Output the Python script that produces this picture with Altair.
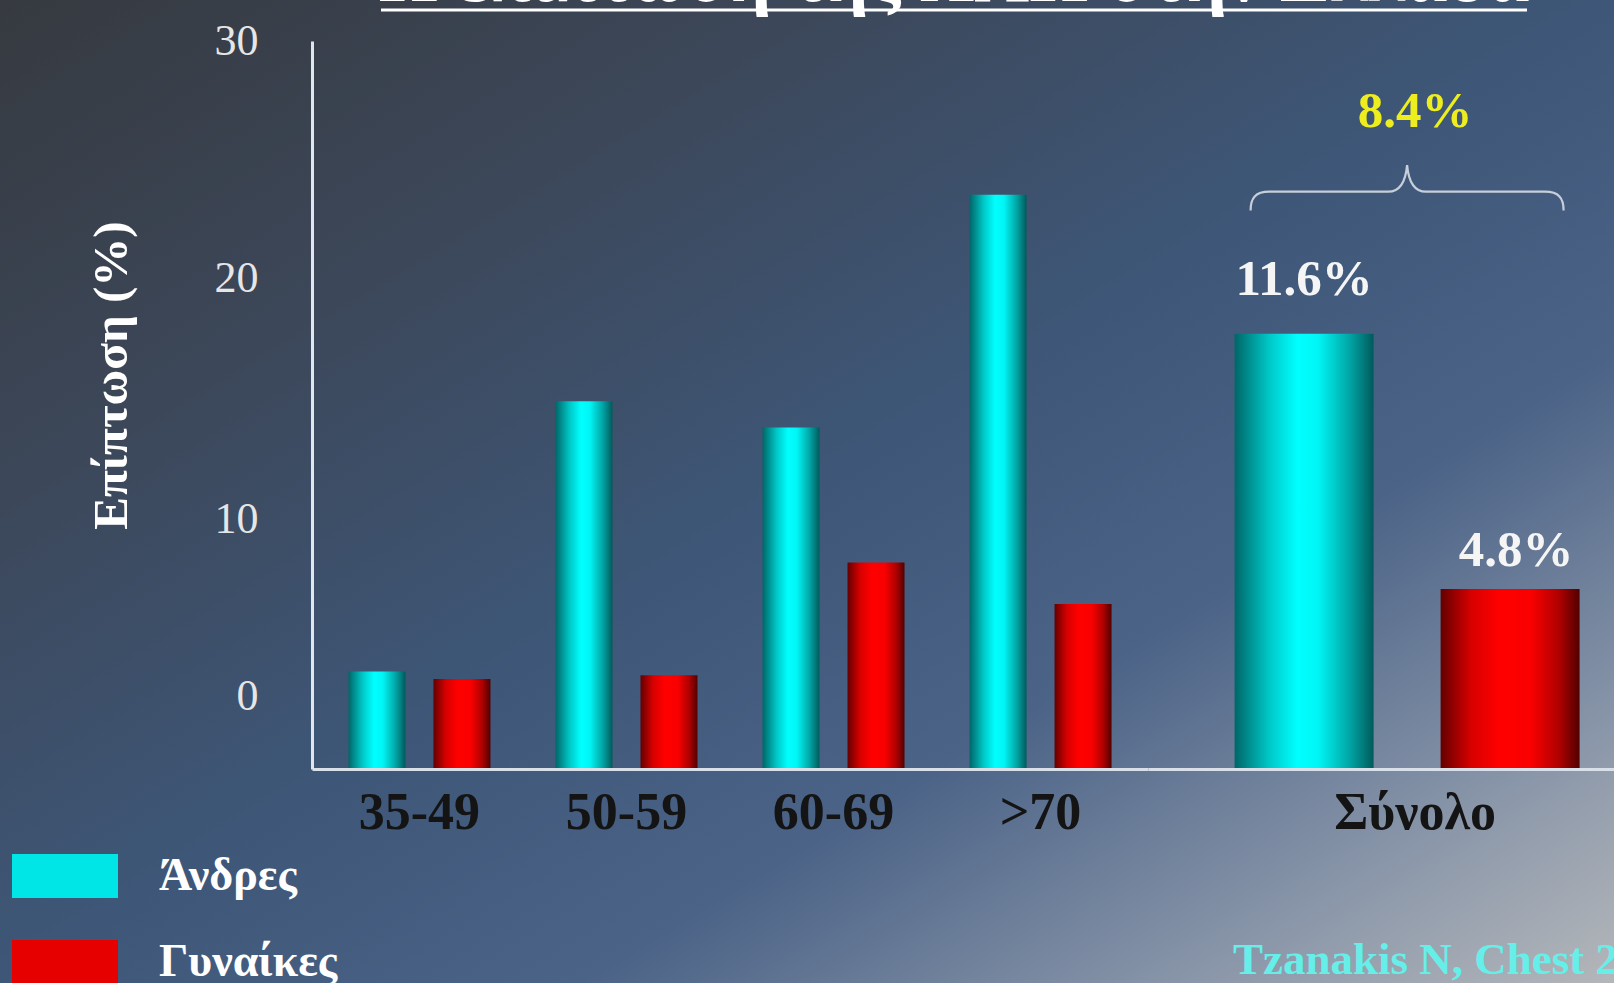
import altair as alt
import pandas as pd

# ---------------- data ----------------
age_groups = ["35-49", "50-59", "60-69", ">70"]
men_by_age = [2.6, 9.8, 9.1, 15.3]
women_by_age = [2.4, 2.5, 5.5, 4.4]
sexes = ["Άνδρες", "Γυναίκες"]
total_group = "Σύνολο"
total_values = [11.6, 4.8]
total_labels = ["11.6%", "4.8%"]
overall_label = "8.4%"
y_axis_values = [1.92, 6.64, 13.07, 19.4]
y_axis_labels = ["0", "10", "20", "30"]
slide_title = "Η επίπτωση της ΧΑΠ στην Ελλάδα"
y_title = "Επίπτωση (%)"
credit = "Tzanakis N, Chest 2004"

SERIF = "Liberation Serif"
W, H = 1302, 728
SPLIT = 836
PAD = {"left": 312, "top": 41, "right": 0, "bottom": 214}


def hgrad(stops):
    return alt.LinearGradient(
        gradient="linear",
        stops=[alt.GradientStop(color=c, offset=o) for o, c in stops],
        x1=0, x2=1, y1=0, y2=0,
    )


MEN_GRAD = hgrad([(0, "#006668"), (0.25, "#00c8c8"), (0.45, "#00ffff"),
                  (0.6, "#00f6f6"), (0.82, "#00a8a8"), (1, "#005a5c")])
WOMEN_GRAD = hgrad([(0, "#640000"), (0.22, "#d80000"), (0.42, "#ff0000"),
                    (0.65, "#fa0000"), (0.85, "#b00000"), (1, "#520000")])
BG_GRAD = alt.LinearGradient(
    gradient="linear",
    stops=[alt.GradientStop(color="#363a40", offset=0),
           alt.GradientStop(color="#3c4759", offset=0.25),
           alt.GradientStop(color="#3e5778", offset=0.5),
           alt.GradientStop(color="#4b6387", offset=0.68),
           alt.GradientStop(color="#8794a8", offset=0.86),
           alt.GradientStop(color="#b4b7ba", offset=1)],
    x1=0, y1=0, x2=1, y2=1,
)

label_expr = ""
for v, l in zip(y_axis_values, y_axis_labels):
    label_expr += f"abs(datum.value - {v}) < 0.01 ? '{l}' : "
label_expr += "''"

Y = alt.Y(
    "value:Q",
    scale=alt.Scale(domain=[0, 19.4], nice=False, zero=True),
    axis=alt.Axis(
        values=y_axis_values, labelExpr=label_expr, labelFont=SERIF,
        labelFontSize=44, labelColor="#e6e6e6", labelPadding=54,
        labelFlush=False, labelOverlap=False, ticks=False, tickSize=0,
        grid=False, domainColor="#dfe6ee", domainWidth=3, zindex=1,
        title=y_title, titleFont=SERIF, titleFontSize=49,
        titleFontWeight="bold", titleColor="#ffffff", titleX=-201,
        titleY=334, titleAngle=270, titleAlign="center",
        titleBaseline="middle",
    ),
)

X_left = alt.X(
    "age:N",
    scale=alt.Scale(domain=age_groups, range=[0, SPLIT], paddingInner=0.314,
                    paddingOuter=0.176),
    axis=alt.Axis(orient="bottom", title=None, ticks=False, tickSize=0,
                  grid=False, labelFont=SERIF, labelFontSize=52,
                  labelFontWeight="bold", labelColor="#141414",
                  labelPadding=18, labelAngle=0, domainColor="#d9e0ea",
                  domainWidth=3, zindex=1),
)
X_right = alt.X(
    "group:N",
    scale=alt.Scale(domain=[total_group], range=[SPLIT, W], paddingInner=0,
                    paddingOuter=1, align=0.584),
    axis=alt.Axis(orient="bottom", title=None, ticks=False, tickSize=0,
                  grid=False, labelFont=SERIF, labelFontSize=52,
                  labelFontWeight="bold", labelColor="#141414",
                  labelPadding=18, labelOffset=8, labelAngle=0,
                  domainColor="#d9e0ea", domainWidth=3, zindex=1),
)

left_df = pd.DataFrame({
    "age": age_groups * 2,
    "sex": [sexes[0]] * len(age_groups) + [sexes[1]] * len(age_groups),
    "value": men_by_age + women_by_age,
})
right_df = pd.DataFrame({
    "group": [total_group] * 2, "sex": sexes,
    "value": total_values, "label": total_labels,
})
overall_df = pd.DataFrame({"group": [total_group], "value": [total_values[0]],
                           "label": [overall_label]})
one = pd.DataFrame({"k": [0]})

# ---------------- decoration ----------------
bg = alt.Chart(one).mark_rect(color=BG_GRAD).encode(
    x=alt.value(-PAD["left"]), x2=alt.value(W),
    y=alt.value(-PAD["top"]), y2=alt.value(H + PAD["bottom"]),
)
title_txt = alt.Chart(one).mark_text(
    text=slide_title, font=SERIF, fontSize=76, fontWeight="bold",
    color="#ffffff", align="center", baseline="alphabetic",
).encode(x=alt.value(642), y=alt.value(-40))
underline = alt.Chart(one).mark_rule(color="#ffffff", strokeWidth=3).encode(
    x=alt.value(69), x2=alt.value(1215), y=alt.value(-31))
credit_txt = alt.Chart(one).mark_text(
    text=credit, font=SERIF, fontSize=45, fontWeight="bold",
    color="#66efe9", align="left", baseline="middle",
).encode(x=alt.value(921), y=alt.value(919))

# ---------------- left: by age group ----------------
men_left = alt.Chart(left_df).transform_filter(
    alt.datum.sex == sexes[0]
).mark_bar(size=57, xOffset=-42.5, color=MEN_GRAD).encode(x=X_left, y=Y)
women_left = alt.Chart(left_df).transform_filter(
    alt.datum.sex == sexes[1]
).mark_bar(size=57, xOffset=42.5, color=WOMEN_GRAD).encode(x=X_left, y=Y)

RECT = "M-1.606,-0.667H1.606V0.667H-1.606Z"
legend_pts = alt.Chart(left_df).mark_point(opacity=0, filled=True).encode(
    x=X_left, y=Y,
    color=alt.Color(
        "sex:N",
        scale=alt.Scale(domain=sexes, range=["#00e6e6", "#e60000"]),
        legend=alt.Legend(
            orient="none", legendX=-280, legendY=802, title=None,
            direction="vertical", symbolType=RECT, symbolSize=4356,
            symbolStrokeWidth=0, symbolOpacity=1, labelFont=SERIF,
            labelFontSize=46, labelFontWeight="bold", labelColor="#ffffff",
            labelOffset=61, labelLimit=500, rowPadding=30, padding=0,
            zindex=1,
        ),
    ),
)
left = alt.layer(men_left, women_left, legend_pts)

# ---------------- right: total ----------------
men_tot = alt.Chart(right_df).transform_filter(
    alt.datum.sex == sexes[0]
).mark_bar(size=139, xOffset=-103, color=MEN_GRAD).encode(x=X_right, y=Y)
women_tot = alt.Chart(right_df).transform_filter(
    alt.datum.sex == sexes[1]
).mark_bar(size=139, xOffset=103, color=WOMEN_GRAD).encode(x=X_right, y=Y)
men_lab = alt.Chart(right_df).transform_filter(
    alt.datum.sex == sexes[0]
).mark_text(dx=-103, dy=-54, font=SERIF, fontSize=51, fontWeight="bold",
            color="#f5f5f5", baseline="middle").encode(x=X_right, y=Y, text="label:N")
women_lab = alt.Chart(right_df).transform_filter(
    alt.datum.sex == sexes[1]
).mark_text(dx=109, dy=-38, font=SERIF, fontSize=51, fontWeight="bold",
            color="#f5f5f5", baseline="middle").encode(x=X_right, y=Y, text="label:N")
overall_lab = alt.Chart(overall_df).mark_text(
    dx=8, dy=-222, font=SERIF, fontSize=51, fontWeight="bold",
    color="#eeee1e", baseline="middle",
).encode(x=X_right, y=Y, text="label:N")

BRACE = ("M-1,0.12 C-1,0.04 -0.97,0 -0.88,0 L-0.12,0 C-0.05,0 -0.01,-0.06 0,-0.17 "
         "C0.01,-0.06 0.05,0 0.12,0 L0.88,0 C0.97,0 1,0.04 1,0.12")
brace = alt.Chart(overall_df).mark_point(
    shape=BRACE, size=97969, filled=False, stroke="#c7cfda", strokeWidth=2.2,
    opacity=1, yOffset=-142,
).encode(x=X_right, y=Y)

right = alt.layer(men_tot, women_tot, men_lab, women_lab, overall_lab, brace)

chart = alt.layer(bg, title_txt, underline, credit_txt, left, right).resolve_scale(
    x="independent"
).properties(
    width=W, height=H, padding=PAD,
    autosize=alt.AutoSizeParams(type="none"),
    background="#3e5474",
).configure_view(stroke=None)

chart.save("out.html", embed_options={"renderer": "svg", "actions": False})
